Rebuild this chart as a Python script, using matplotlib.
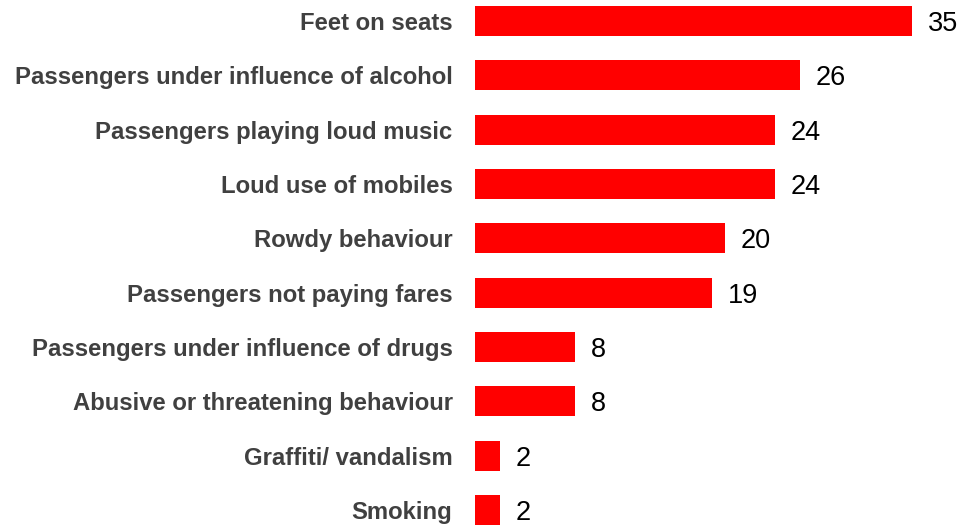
import matplotlib.pyplot as plt

categories = ["Feet on seats",
              "Passengers under influence of alcohol",
              "Passengers playing loud music",
              "Loud use of mobiles",
              "Rowdy behaviour",
              "Passengers not paying fares",
              "Passengers under influence of drugs",
              "Abusive or threatening behaviour",
              "Graffiti/ vandalism",
              "Smoking"]
values = [35, 26, 24, 24, 20, 19, 8, 8, 2, 2]

plt.rcParams['font.family'] = ['Liberation Sans', 'DejaVu Sans']

fig = plt.figure(figsize=(9.61, 5.25), dpi=100)
ax = fig.add_axes([0.494, 0.0, 0.506, 1.0])

pos = list(range(len(categories)))
ax.barh(pos, values, height=0.55, color='#ff0000')
ax.set_ylim(9.277, -0.387)
ax.set_xlim(0, 38.9)

for p, v in zip(pos, values):
    ax.annotate(str(v), (v, p), xytext=(11.5, 0), textcoords='offset points',
                va='center_baseline', ha='left', fontsize=19.5, color='black')

ax.set_yticks(pos)
ax.set_yticklabels(categories, fontsize=17.2, fontweight='bold', color='#404040')
ax.tick_params(axis='y', length=0, pad=16)
ax.set_xticks([])
for s in ax.spines.values():
    s.set_visible(False)

fig.savefig('out.png', dpi=100)
